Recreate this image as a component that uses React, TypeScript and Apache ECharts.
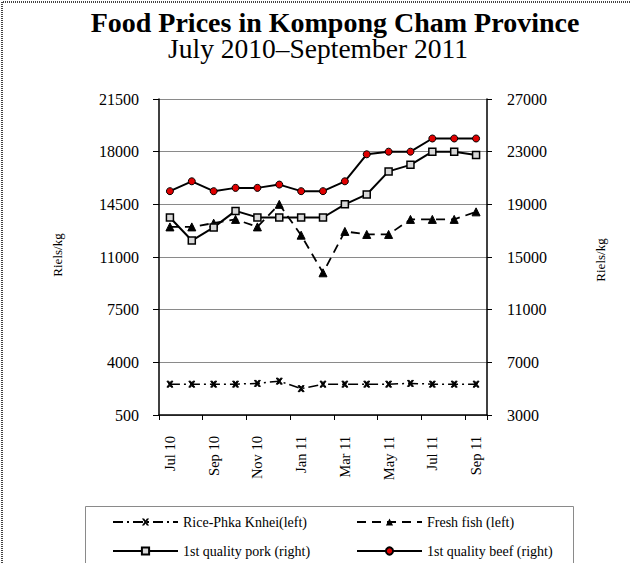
import React, { useEffect, useRef } from "react";
import * as echarts from "echarts";

const months = ["Jul 10", "Aug 10", "Sep 10", "Oct 10", "Nov 10", "Dec 10", "Jan 11", "Feb 11", "Mar 11", "Apr 11", "May 11", "Jun 11", "Jul 11", "Aug 11", "Sep 11"];
const rice = [2550, 2550, 2550, 2550, 2600, 2750, 2250, 2550, 2550, 2550, 2550, 2600, 2550, 2550, 2550];
const fish = [13000, 13000, 13250, 13500, 13000, 14500, 12450, 9950, 12700, 12500, 12500, 13500, 13500, 13500, 14000];
const pork = [18000, 16250, 17250, 18500, 18000, 18000, 18000, 18000, 19000, 19750, 21500, 22000, 23000, 23000, 22750];
const beef = [20000, 20750, 20000, 20250, 20250, 20500, 20000, 20000, 20750, 22800, 23000, 23000, 24000, 24000, 24000];

const titleText = "Food Prices in Kompong Cham Province";
const subtitleText = "July 2010\u2013September 2011";
const axisName = "Riels/kg";
const names = ["Rice-Phka Knhei(left)", "Fresh fish (left)", "1st quality pork (right)", "1st quality beef (right)"];

const FONT = "'Liberation Serif', 'Times New Roman', serif";
const XMARK = "path://M0 0 L3 0 L5 3 L7 0 L10 0 L6.5 5 L10 10 L7 10 L5 7 L3 10 L0 10 L3.5 5 Z";

export default function App() {
  const ref = useRef<HTMLDivElement>(null);
  useEffect(() => {
    document.body.style.margin = "0";
    const chart = echarts.init(ref.current!, null, { renderer: "svg" });
    const axisLabel = { color: "#000", fontFamily: FONT, fontSize: 16 };
    const legendPos = [
      { left: 112, top: 515 },
      { left: 356, top: 515 },
      { left: 112, top: 544 },
      { left: 356, top: 544 },
    ];
    chart.setOption({
      animation: false,
      backgroundColor: "#fff",
      title: [
        { text: titleText, left: 330, top: 6, textAlign: "center", textStyle: { fontFamily: FONT, fontSize: 28, lineHeight: 22, fontWeight: "bold", color: "#000" } },
        { text: subtitleText, left: 313, top: 32, textAlign: "center", textStyle: { fontFamily: FONT, fontSize: 27.5, lineHeight: 22, fontWeight: "normal", color: "#000" } },
      ],
      grid: { left: 159, right: 144, top: 99, height: 316 },
      xAxis: {
        type: "category",
        data: months,
        boundaryGap: true,
        axisLine: { lineStyle: { color: "#000", width: 1.5 } },
        axisTick: { show: true, interval: 1, length: 5, lineStyle: { color: "#000" } },
        axisLabel: { ...axisLabel, fontSize: 14.5, rotate: 90, interval: 1, margin: 21 },
      },
      yAxis: [
        {
          type: "value", min: 500, max: 21500, interval: 3500, position: "left",
          axisLine: { show: true, lineStyle: { color: "#000", width: 1.5 } },
          axisTick: { show: true, length: 6, lineStyle: { color: "#000" } },
          axisLabel: { ...axisLabel, margin: 20, formatter: (v: number) => String(v) },
          splitLine: { show: true, lineStyle: { color: "#8a8a8a", width: 1 } },
        },
        {
          type: "value", min: 3000, max: 27000, interval: 4000, position: "right",
          axisLine: { show: true, lineStyle: { color: "#000", width: 1.5 } },
          axisTick: { show: true, length: 5, lineStyle: { color: "#000" } },
          axisLabel: { ...axisLabel, margin: 20, formatter: (v: number) => String(v) },
          splitLine: { show: false },
        },
      ],
      legend: names.map((n, i) => ({
        data: [n], orient: "horizontal", left: legendPos[i].left, top: legendPos[i].top,
        itemWidth: 65, itemHeight: 9, padding: 0,
        textStyle: { fontFamily: FONT, fontSize: 14, color: "#000" }, selectedMode: false,
      })),
      graphic: [
        { type: "polyline", shape: { points: [[2, 563], [2, 2], [631, 2]] }, style: { stroke: "#444", lineWidth: 2, lineDash: [1, 1], fill: "none" }, silent: true },
        { type: "rect", shape: { x: 85.5, y: 506.5, width: 488, height: 70 }, style: { stroke: "#8a8a8a", lineWidth: 1, fill: "none" }, silent: true },
        { type: "text", x: 57, y: 255, rotation: Math.PI / 2, style: { text: axisName, font: `13px ${FONT}`, fill: "#000", textAlign: "center", textVerticalAlign: "middle" } },
        { type: "text", x: 600, y: 260, rotation: Math.PI / 2, style: { text: axisName, font: `13px ${FONT}`, fill: "#000", textAlign: "center", textVerticalAlign: "middle" } },
      ],
      series: [
        {
          name: names[0], type: "line", yAxisIndex: 0, data: rice,
          symbol: XMARK, symbolSize: 6,
          lineStyle: { color: "#000", width: 1.5, type: [10, 4, 2, 4] },
          itemStyle: { color: "#000", borderColor: "#000" },
        },
        {
          name: names[1], type: "line", yAxisIndex: 0, data: fish,
          symbol: "triangle", symbolSize: 8,
          lineStyle: { color: "#000", width: 1.8, type: [9, 6] },
          itemStyle: { color: "#000", borderColor: "#000" },
        },
        {
          name: names[2], type: "line", yAxisIndex: 1, data: pork,
          symbol: "rect", symbolSize: 7,
          lineStyle: { color: "#000", width: 2, type: "solid" },
          itemStyle: { color: "#d8d8d8", borderColor: "#000", borderWidth: 1.5 },
        },
        {
          name: names[3], type: "line", yAxisIndex: 1, data: beef,
          symbol: "circle", symbolSize: 7,
          lineStyle: { color: "#000", width: 2, type: "solid" },
          itemStyle: { color: "#e00000", borderColor: "#000", borderWidth: 1 },
        },
      ],
    });
    return () => chart.dispose();
  }, []);
  return <div ref={ref} style={{ width: 631, height: 563, position: "absolute", left: 0, top: 0 }} />;
}
